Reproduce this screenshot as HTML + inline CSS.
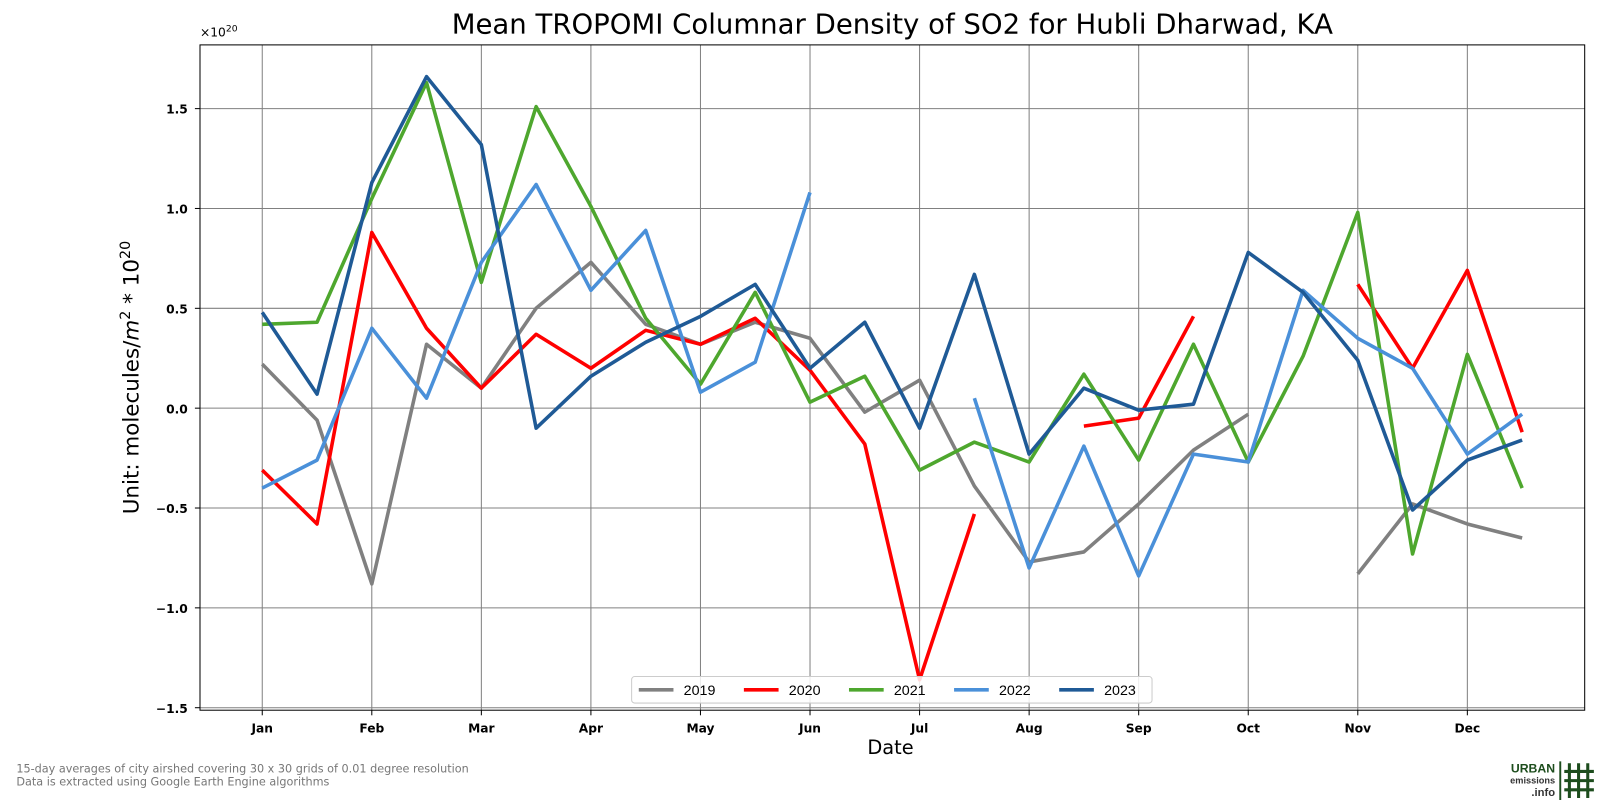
<!DOCTYPE html>
<html><head><meta charset="utf-8">
<style>
body{margin:0;background:#fff;font-family:"DejaVu Sans","Liberation Sans",sans-serif;overflow:hidden}
#wrap{position:relative;width:1568px;height:784px;transform:scale(1.020408);transform-origin:0 0}
svg{display:block}
</style></head>
<body>
<div id="wrap">
<svg id="chart" width="1568" height="784" viewBox="0 0 1568 784" xmlns="http://www.w3.org/2000/svg" font-family="DejaVu Sans, Liberation Sans, sans-serif"></svg>
<div style="position:absolute;left:0;top:9px;width:1749px;text-align:center;font-size:27px;white-space:nowrap">Mean TROPOMI Columnar Density of SO2 for Hubli Dharwad, KA</div>
<div style="position:absolute;left:196px;top:24px;font-size:12px;">×10<sup style="font-size:9px">20</sup></div>
<div style="position:absolute;left:128px;top:370px;font-size:21px;transform:translate(-50%,-50%) rotate(-90deg);white-space:nowrap;">Unit: molecules/<i>m</i><sup style="font-size:14px">2</sup> * 10<sup style="font-size:14px">20</sup></div>
<div style="position:absolute;left:850px;top:722px;font-size:19px;">Date</div>
<div style="position:absolute;left:16px;top:747px;font-size:11px;color:#777;line-height:13px;font-family:'DejaVu Sans',sans-serif">15-day averages of city airshed covering 30 x 30 grids of 0.01 degree resolution<br>Data is extracted using Google Earth Engine algorithms</div>
<div style="position:absolute;left:1436px;top:746px;width:130px;height:40px;font-family:'Liberation Sans',sans-serif">
 <div style="position:absolute;right:42px;top:2px;font-size:12px;font-weight:bold;color:#1d4d1d;text-align:right;line-height:11px;">URBAN<br><span style="font-size:9px;color:#333">emissions</span><br><span style="font-size:11px;color:#333">.info</span></div>
 <svg style="position:absolute;right:2px;top:0" width="36" height="38" viewBox="0 0 36 38">
  <rect x="0" y="0" width="2" height="38" fill="#1d4d1d"/>
  <g stroke="#1d4d1d" stroke-width="3">
   <line x1="10" y1="2" x2="10" y2="36"/><line x1="19" y1="2" x2="19" y2="36"/><line x1="28" y1="2" x2="28" y2="36"/>
   <line x1="5" y1="10" x2="34" y2="10"/><line x1="5" y1="19" x2="34" y2="19"/><line x1="5" y1="28" x2="34" y2="28"/>
  </g>
 </svg>
</div>
</div>
<script>
const months=["Jan","Feb","Mar","Apr","May","Jun","Jul","Aug","Sep","Oct","Nov","Dec"];
const yTicks=[1.5,1.0,0.5,0.0,-0.5,-1.0,-1.5];
const yTickLabels=["1.5","1.0","0.5","0.0","\u22120.5","\u22121.0","\u22121.5"];
const years=["2019","2020","2021","2022","2023"];
const colors=["#808080","#ff0000","#4ea72e","#4a90d9","#1f5a96"];
const s2019=[0.22,-0.06,-0.88,0.32,0.10,0.50,0.73,0.42,0.32,0.43,0.35,-0.02,0.14,-0.39,-0.77,-0.72,-0.48,-0.21,-0.03,null,-0.83,-0.48,-0.58,-0.65];
const s2020=[-0.31,-0.58,0.88,0.40,0.10,0.37,0.20,0.39,0.32,0.45,0.19,-0.18,-1.36,-0.53,null,-0.09,-0.05,0.46,null,null,0.62,0.20,0.69,-0.12];
const s2021=[0.42,0.43,1.05,1.63,0.63,1.51,1.01,0.45,0.12,0.58,0.03,0.16,-0.31,-0.17,-0.27,0.17,-0.26,0.32,-0.27,0.26,0.98,-0.73,0.27,-0.40];
const s2022=[-0.40,-0.26,0.40,0.05,0.73,1.12,0.59,0.89,0.08,0.23,1.08,null,null,0.05,-0.80,-0.19,-0.84,-0.23,-0.27,0.59,0.35,0.20,-0.23,-0.03];
const s2023=[0.48,0.07,1.13,1.66,1.32,-0.10,0.16,0.33,0.46,0.62,0.20,0.43,-0.10,0.67,-0.23,0.10,-0.01,0.02,0.78,0.58,0.24,-0.51,-0.26,-0.16];
const series=[s2019,s2020,s2021,s2022,s2023];

const svg=document.getElementById('chart');
const NS="http://www.w3.org/2000/svg";
const L=196,R=1553,T=44,B=696;
const x=i=>257+i*(1438-257)/22;
const y=v=>400-v*195.7;
function mk(tag,attrs,parent){const e=document.createElementNS(NS,tag);for(const k in attrs)e.setAttribute(k,attrs[k]);(parent||svg).appendChild(e);return e;}

months.forEach((m,i)=>{
 const g=mk('line',{x1:x(i*2),x2:x(i*2),y1:T,y2:B,stroke:'#808080','stroke-width':1});
 
 
 const t=mk('line',{x1:x(i*2),x2:x(i*2),y1:B,y2:B+5,stroke:'#000'});
 
 
 const l=mk('text',{x:x(i*2),y:B+22,'text-anchor':'middle','font-size':12,'font-weight':'bold'});
 l.textContent=m;
 
 
});
yTicks.forEach((v,i)=>{
 const g=mk('line',{x1:L,x2:R,y1:y(v),y2:y(v),stroke:'#808080','stroke-width':1});
 
 
 const t=mk('line',{x1:L-5,x2:L,y1:y(v),y2:y(v),stroke:'#000'});
 
 
 const l=mk('text',{x:L-12,y:y(v)+5,'text-anchor':'end','font-size':12,'font-weight':'bold'});
 l.textContent=yTickLabels[i];
 
 
});

series.forEach((s,k)=>{
 let d="",pen=false;
 s.forEach((v,i)=>{ if(v===null){pen=false;return;} d+=(pen?"L":"M")+x(i).toFixed(1)+","+y(v).toFixed(1)+" "; pen=true;});
 const p=mk('path',{d:d,fill:'none',stroke:colors[k],'stroke-width':3.5,'stroke-linejoin':'round'});
 
 
});

const fr=mk('rect',{x:L,y:T,width:R-L,height:B-T,fill:'none',stroke:'#000','stroke-width':1});



const lg=mk('g',{});


mk('rect',{x:619,y:663,width:510,height:26,rx:3,fill:'#fff','fill-opacity':0.85,stroke:'#ccc'},lg);
years.forEach((yr,k)=>{
 const bx=626+k*103;
 const e=mk('g',{},lg);
 
 
 mk('line',{x1:bx,x2:bx+34,y1:676,y2:676,stroke:colors[k],'stroke-width':3.5},e);
 const t=mk('text',{x:bx+44,y:681,'font-size':14,'font-family':'Liberation Sans, sans-serif'},e);
 t.textContent=yr;
});
</script>
</body></html>
